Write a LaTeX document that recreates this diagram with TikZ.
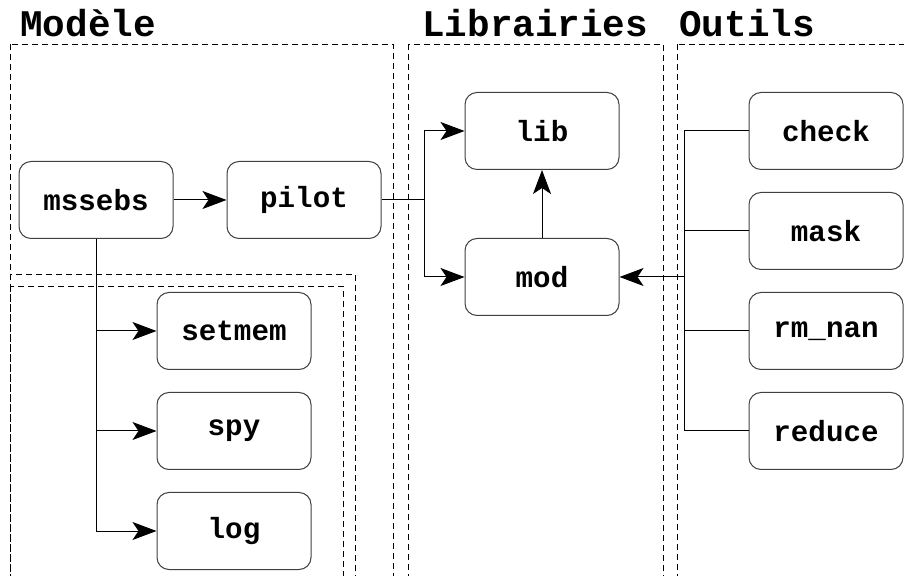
\documentclass[tikz,border=0pt]{standalone}
\usepackage{fontspec}
\setmonofont{Liberation Mono}
\usetikzlibrary{positioning,arrows.meta}

\begin{document}
\begin{tikzpicture}[x=0.5pt,y=-0.5pt,
  box/.style={draw=black!75,line width=0.5pt,rounded corners=6pt,minimum width=77pt,
    minimum height=38.5pt,inner sep=0pt,font=\fontsize{14.6}{16}\ttfamily\bfseries},
  title/.style={anchor=base west,inner sep=0pt,font=\fontsize{18.8}{20}\ttfamily\bfseries},
  frame/.style={dashed,line width=0.3pt,dash pattern=on 3pt off 2pt},
  arr/.style={-{Stealth[length=12pt,width=9pt,inset=3pt]},line width=0.5pt},
  lnk/.style={line width=0.5pt}]
\useasboundingbox (0,0) rectangle (904,576);
\clip (0,0) rectangle (904,576);
% frames
\draw[frame] (10,44) rectangle (393,600);
\draw[frame] (10,274) rectangle (355,600);
\draw[frame] (10,286) rectangle (343,600);
\draw[frame] (408,44) rectangle (663,600);
\draw[frame] (677,44) rectangle (930,600);
\node[title] (tmod) at (20,37) {Modèle};
\node[title] (tlib) at (422,37) {Librairies};
\node[title] (tout) at (679,37) {Outils};
% Modele
\node[box] (mssebs) at (96,200) {mssebs};
\node[box] (pilot)  at (304,200) {pilot};
\node[box] (setmem) at (234,331) {setmem};
\node[box] (spy)    at (234,431) {spy};
\node[box] (log)    at (234,531) {log};
% Librairies
\node[box] (lib) at (542,131) {lib};
\node[box] (mod) at (542,277) {mod};
% Outils
\node[box] (check)  at (826,131) {check};
\node[box] (mask)   at (826,231) {mask};
\node[box] (rmnan)  at (826,331) {rm\_nan};
\node[box] (reduce) at (826,431) {reduce};
\coordinate (split) at (424,200);
\coordinate (bus) at (684,131);
% links
\draw[arr] (mssebs) -- (pilot);
\draw[lnk] (pilot.east) -- (split);
\draw[arr] (split) |- (lib.west);
\draw[arr] (split) |- (mod.west);
\draw[arr] (mod) -- (lib);
\draw[arr] (mssebs.south) |- (log.west);
\draw[arr] (mssebs.south |- setmem) -- (setmem.west);
\draw[arr] (mssebs.south |- spy) -- (spy.west);
\draw[lnk] (check.west) -- (bus) |- (reduce.west);
\draw[lnk] (mask.west) -- (bus |- mask);
\draw[lnk] (rmnan.west) -- (bus |- rmnan);
\draw[arr] (bus |- mod) -- (mod.east);
\end{tikzpicture}
\end{document}
